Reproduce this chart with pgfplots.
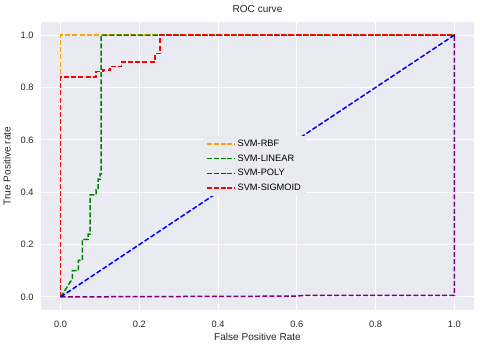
\documentclass[border=0pt]{standalone}
\usepackage{fontspec}
\setmainfont{Liberation Sans}
\usepackage{pgfplots}
\pgfplotsset{compat=1.18}
\definecolor{bgc}{HTML}{EAEAF2}
\definecolor{txt}{HTML}{262626}
\definecolor{mplorange}{HTML}{FFA500}
\definecolor{mplgreen}{HTML}{008000}
\definecolor{mplpurple}{HTML}{800080}
\definecolor{mplred}{HTML}{FF0000}
\definecolor{mplblue}{HTML}{0000FF}

\begin{document}
\begin{tikzpicture}
\useasboundingbox (-41bp,-38bp) rectangle (439bp,310bp);
\begin{axis}[
  scale only axis, width=433bp, height=288bp,
  xmin=-0.05, xmax=1.05, ymin=-0.05, ymax=1.05,
  xtick={0,0.2,0.4,0.6,0.8,1}, ytick={0,0.2,0.4,0.6,0.8,1},
  axis background/.style={fill=bgc},
  axis line style={draw=none},
  major tick length=0pt,
  grid=major, grid style={white, line width=0.9bp},
  tick label style={font=\fontsize{9.3}{11}\selectfont, color=txt,
    /pgf/number format/fixed, /pgf/number format/fixed zerofill,
    /pgf/number format/precision=1},
  /pgf/number format/assume math mode=true,
  xticklabel style={yshift=-8bp}, yticklabel style={xshift=-4bp},
  xlabel={False Positive Rate}, ylabel={True Positive rate},
  xlabel style={yshift=2bp}, ylabel style={yshift=3bp},
  label style={font=\fontsize{10.1}{12}\selectfont, color=txt},
  title={ROC curve},
  title style={font=\fontsize{10.1}{12}\selectfont, color=txt},
  every axis plot/.append style={line width=1.5bp, line cap=butt, line join=miter,
    dash pattern=on 5bp off 2.2bp},
  legend style={at={(0.5,0.5)}, anchor=center, xshift=-3bp, draw=none, fill=bgc,
    font=\fontsize{9.3}{11}\selectfont, row sep=2.7bp},
  legend cell align=left,
  legend image code/.code={\draw[#1] (0bp,0bp) -- (20bp,0bp); \path (20bp,0bp) -- (28bp,0bp);},
]
\addplot[mplorange] coordinates {(0,0) (0,1) (1,1)};
\addlegendentry{SVM-RBF}
\addplot[mplgreen] coordinates {
  (0,0) (0.03,0.07) (0.03,0.10) (0.045,0.10) (0.045,0.14) (0.055,0.14)
  (0.055,0.22) (0.07,0.22) (0.07,0.24) (0.075,0.24) (0.075,0.39)
  (0.09,0.39) (0.09,0.41) (0.095,0.41) (0.095,0.45) (0.10,0.45)
  (0.10,0.47) (0.103,0.47) (0.103,1) (1,1)};
\addlegendentry{SVM-LINEAR}
\addplot[mplpurple] coordinates {(0,0) (0.6,0.003) (0.62,0.006) (1,0.006) (1,1)};
\addlegendentry{SVM-POLY}
\addplot[mplred] coordinates {
  (0,0) (0,0.84) (0.09,0.84) (0.09,0.86) (0.108,0.86) (0.108,0.866)
  (0.125,0.866) (0.125,0.88) (0.154,0.88) (0.154,0.898) (0.24,0.898)
  (0.24,0.93) (0.252,0.93) (0.252,1) (1,1)};
\addlegendentry{SVM-SIGMOID}
\addplot[mplblue, forget plot] coordinates {(0,0) (1,1)};
\end{axis}
\end{tikzpicture}
\end{document}
